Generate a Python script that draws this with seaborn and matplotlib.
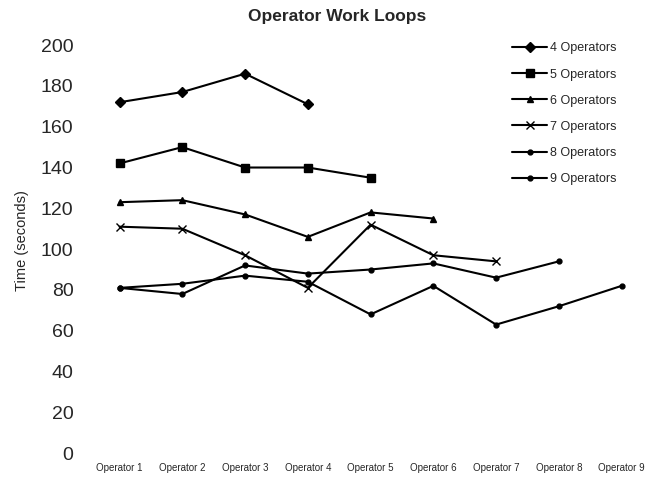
import matplotlib
matplotlib.use("Agg")
import matplotlib.pyplot as plt
import seaborn as sns
import pandas as pd

operators = ["Operator 1", "Operator 2", "Operator 3", "Operator 4", "Operator 5",
             "Operator 6", "Operator 7", "Operator 8", "Operator 9"]
series_names = ["4 Operators", "5 Operators", "6 Operators", "7 Operators",
                "8 Operators", "9 Operators"]
ops4 = [172, 177, 186, 171]
ops5 = [142, 150, 140, 140, 135]
ops6 = [123, 124, 117, 106, 118, 115]
ops7 = [111, 110, 97, 81, 112, 97, 94]
ops8 = [81, 78, 92, 88, 90, 93, 86, 94]
ops9 = [81, 83, 87, 84, 68, 82, 63, 72, 82]
all_series = [ops4, ops5, ops6, ops7, ops8, ops9]

sns.set_style("white")
plt.rcParams["font.family"] = ["Liberation Sans", "DejaVu Sans"]

fig = plt.figure(figsize=(6.53, 4.8), dpi=100)
ax = fig.add_axes([0.135, 0.056, 0.865, 0.85])

marker_list = ["D", "s", "^", "x", "o", "o"]
size_list = [5.5, 6, 4.5, 5.5, 3.5, 3.5]

for name, vals, mk, ms in zip(series_names, all_series, marker_list, size_list):
    d = pd.DataFrame({"pos": list(range(len(vals))), "time": vals})
    sns.lineplot(data=d, x="pos", y="time", ax=ax, color="black",
                 linewidth=1.5, marker=mk, markersize=ms,
                 markeredgecolor="black", markerfacecolor="black",
                 markeredgewidth=1.0, label=name)

for s in ax.spines.values():
    s.set_visible(False)

ax.set_xlim(-0.5, 8.5)
ax.set_ylim(0, 200)
ax.set_yticks(range(0, 201, 20))
ax.set_xticks(range(9))
ax.set_xticklabels(operators, fontsize=7)
ax.tick_params(axis="y", labelsize=14, length=0, pad=10.5)
ax.tick_params(axis="x", length=0, pad=7)
ax.set_xlabel("")
ax.set_ylabel("Time (seconds)", fontsize=10.5)
ax.yaxis.set_label_coords(-0.104, 0.522)
fig.suptitle("Operator Work Loops", fontsize=12.5, fontweight="bold",
             x=0.516, y=0.982)

handles, labels = ax.get_legend_handles_labels()
ax.legend(handles, labels, frameon=False, fontsize=9, loc="upper left",
          bbox_to_anchor=(0.767, 0.935), bbox_transform=fig.transFigure,
          labelspacing=1.13, handlelength=2.8, handletextpad=0.25)

fig.savefig("out.png", dpi=100)
